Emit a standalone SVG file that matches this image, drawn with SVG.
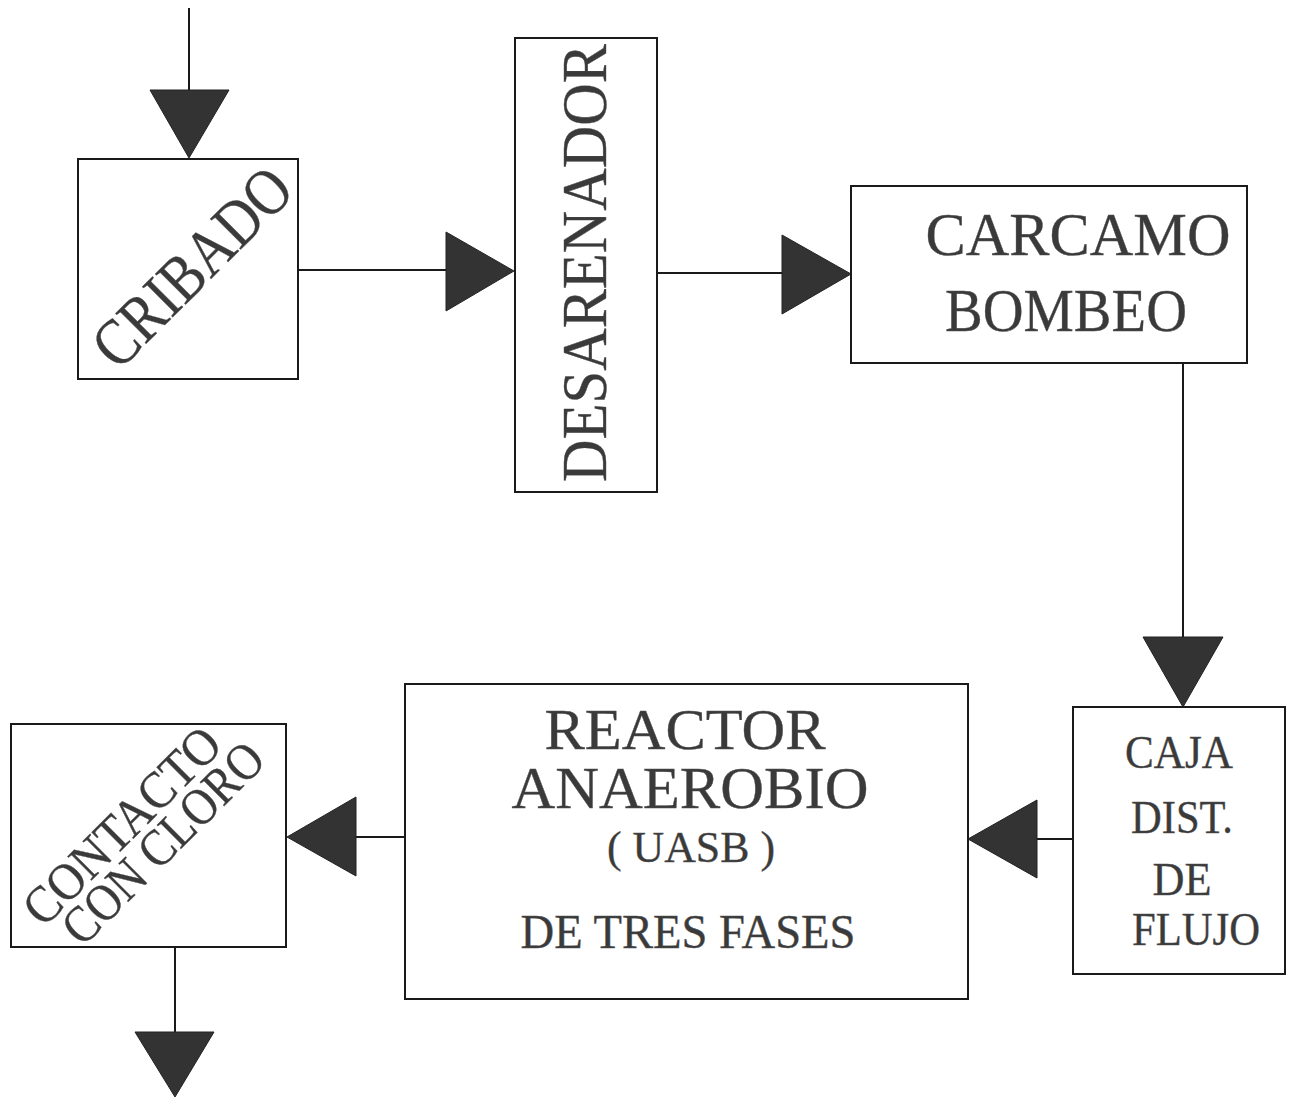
<svg xmlns="http://www.w3.org/2000/svg" width="1289" height="1099" viewBox="0 0 1289 1099">
<style>
.box{fill:#fff;stroke:#1a1a1a;stroke-width:2}
.ln{stroke:#1a1a1a;stroke-width:2;fill:none}
.ah{fill:#333;stroke:#222;stroke-width:1}
.t{font-family:"Liberation Serif","Times New Roman",serif;fill:#3a3a3a;stroke:#555;stroke-width:0.4;text-anchor:middle}
</style>
<rect width="1289" height="1099" fill="#fff"/>
<g id="connectors">
<line class="ln" x1="189" y1="8" x2="189" y2="90"/>
<polygon class="ah" points="150,90 229,90 189,158"/>
<line class="ln" x1="298" y1="270" x2="446" y2="270"/>
<polygon class="ah" points="446,232 446,311 514,271"/>
<line class="ln" x1="657" y1="273" x2="782" y2="273"/>
<polygon class="ah" points="782,235 782,314 851,274"/>
<line class="ln" x1="1183" y1="363" x2="1183" y2="637"/>
<polygon class="ah" points="1143,637 1223,637 1183,707"/>
<line class="ln" x1="1073" y1="839" x2="1037" y2="839"/>
<polygon class="ah" points="1037,800 1037,878 968,839"/>
<line class="ln" x1="405" y1="837" x2="356" y2="837"/>
<polygon class="ah" points="356,797 356,876 287,837"/>
<line class="ln" x1="175" y1="947" x2="175" y2="1032"/>
<polygon class="ah" points="135,1032 214,1032 175,1097"/>
</g>
<g id="cribado">
<rect class="box" x="78" y="159" width="220" height="220"/>
<text class="t" font-size="66" transform="translate(192,267) rotate(-45)" x="0" y="22" textLength="252" lengthAdjust="spacingAndGlyphs">CRIBADO</text>
</g>
<g id="desarenador">
<rect class="box" x="515" y="38" width="142" height="454"/>
<text class="t" font-size="64" transform="translate(584,263) rotate(-90)" x="0" y="22" textLength="438" lengthAdjust="spacingAndGlyphs">DESARENADOR</text>
</g>
<g id="carcamo">
<rect class="box" x="851" y="186" width="396" height="177"/>
<text class="t" font-size="62" x="1078" y="255" textLength="305" lengthAdjust="spacingAndGlyphs">CARCAMO</text>
<text class="t" font-size="62" x="1066" y="331" textLength="242" lengthAdjust="spacingAndGlyphs">BOMBEO</text>
</g>
<g id="caja">
<rect class="box" x="1073" y="707" width="212" height="267"/>
<text class="t" font-size="46" x="1179" y="768" textLength="108" lengthAdjust="spacingAndGlyphs">CAJA</text>
<text class="t" font-size="46" x="1182" y="833" textLength="102" lengthAdjust="spacingAndGlyphs">DIST.</text>
<text class="t" font-size="46" x="1182" y="895" textLength="59" lengthAdjust="spacingAndGlyphs">DE</text>
<text class="t" font-size="46" x="1196" y="945" textLength="128" lengthAdjust="spacingAndGlyphs">FLUJO</text>
</g>
<g id="reactor">
<rect class="box" x="405" y="684" width="563" height="315"/>
<text class="t" font-size="57" x="685" y="749" textLength="281" lengthAdjust="spacingAndGlyphs">REACTOR</text>
<text class="t" font-size="59" x="690" y="808" textLength="357" lengthAdjust="spacingAndGlyphs">ANAEROBIO</text>
<text class="t" font-size="45" x="691" y="862" textLength="168" lengthAdjust="spacingAndGlyphs">( UASB )</text>
<text class="t" font-size="48" x="688" y="948" textLength="335" lengthAdjust="spacingAndGlyphs">DE TRES FASES</text>
</g>
<g id="contacto">
<rect class="box" x="11" y="724" width="275" height="223"/>
<text class="t" font-size="52" transform="translate(122,826) rotate(-45)" x="0" y="17" textLength="256" lengthAdjust="spacingAndGlyphs">CONTACTO</text>
<text class="t" font-size="52" transform="translate(163,843) rotate(-45)" x="0" y="17" textLength="262" lengthAdjust="spacingAndGlyphs">CON CLORO</text>
</g>
</svg>
